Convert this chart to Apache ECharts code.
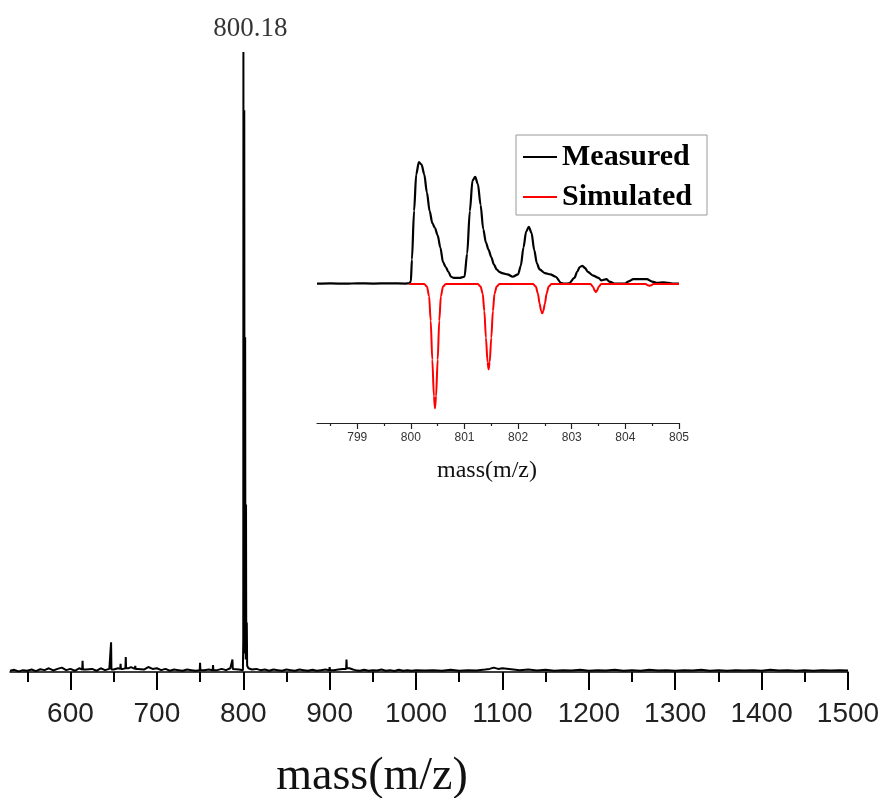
<!DOCTYPE html>
<html>
<head>
<meta charset="utf-8">
<script src="https://cdn.jsdelivr.net/npm/echarts@6/dist/echarts.min.js"></script>
<style>html,body{margin:0;padding:0;background:#fff}#c{width:885px;height:798px}</style>
</head>
<body>
<div id="c"></div>
<script>
// ---- Main spectrum (mass, relative intensity %) ----
const mainMass = [530,535,540,545,550,555,560,565,570,575,580,585,590,592,595,600,605,610,613.6,614,614.4,618,620,625,630,635,640,645,646.6,647,647.4,650,655,657.6,658,658.4,661,663.6,664,664.4,667,670,674.6,675,675.4,678,680,685,690,695,700,705,710,715,720,725,730,735,740,745,749.6,750,750.4,755,760,764.6,765,765.4,770,775,780,785,787.1,787.5,787.9,790,795,799.6,800.0,800.18,800.4,800.8,801.18,801.5,801.9,802.2,802.5,802.9,803.2,803.5,804.1,804.5,806,810,815,820,825,830,835,840,845,850,855,860,865,870,875,880,885,890,895,899.6,900,900.4,905,910,915,919.1,919.5,919.9,923,927,930,935,940,945,950,955,960,965,970,975,980,985,990,995,1000,
  1010,1020,1030,1040,1050,1060,1070,1080,1085,1090,1095,1100,
  1110,1120,1130,1140,1150,1160,1170,1180,1190,1200,
  1210,1220,1230,1240,1250,1260,1270,1280,1290,1300,
  1310,1320,1330,1340,1350,1360,1370,1380,1390,1400,
  1410,1420,1430,1440,1450,1460,1470,1480,1490,1500];
const mainIntensity = [0.2,0.35,0.1,0.3,0.2,0.4,0.15,0.45,0.3,0.6,0.25,0.5,0.7,0.9,0.3,0.5,0.2,0.6,0.4,1.8,0.4,0.4,0.3,0.5,0.2,0.6,0.3,0.5,0.4,4.8,0.4,0.4,0.6,0.5,1.3,0.5,0.5,0.6,2.4,0.6,0.6,0.8,0.5,1.0,0.5,0.5,0.7,0.4,0.8,0.5,0.6,0.3,0.5,0.2,0.4,0.3,0.2,0.4,0.3,0.2,0.3,1.5,0.3,0.3,0.4,0.3,1.1,0.3,0.3,0.5,0.3,0.6,0.5,2.0,0.5,0.5,0.4,0.3,5,100,20,3,90.6,15,4,54,8,2,27,3,8,1,0.6,0.4,0.5,0.3,0.4,0.2,0.4,0.3,0.2,0.4,0.3,0.2,0.4,0.3,0.2,0.35,0.2,0.3,0.4,0.3,0.8,0.3,0.3,0.4,0.5,0.5,2.0,0.6,0.6,0.4,0.3,0.2,0.35,0.2,0.3,0.25,0.4,0.2,0.3,0.15,0.35,0.2,0.3,0.2,0.3,
  0.25,0.3,0.2,0.35,0.2,0.3,0.25,0.4,0.5,0.7,0.5,0.6,
  0.45,0.3,0.4,0.25,0.35,0.2,0.3,0.25,0.35,0.2,
  0.3,0.25,0.35,0.2,0.3,0.2,0.35,0.25,0.3,0.2,
  0.3,0.25,0.35,0.2,0.3,0.2,0.3,0.25,0.3,0.2,
  0.35,0.25,0.3,0.2,0.3,0.2,0.3,0.25,0.3,0.25];
const peakLabelMass = 800.18;
const peakLabelIntensity = 100;
const peakLabelText = '800.18';
const mainTicks = [600,700,800,900,1000,1100,1200,1300,1400,1500];
const mainMinorTicks = [550,650,750,850,950,1050,1150,1250,1350,1450];

// ---- Inset: measured isotope pattern ----
const measuredMass = [798.25,798.5,798.8,799.0,799.3,799.6,799.9,799.97,800.0,800.02,800.06,800.1,800.15,800.2,800.25,800.3,800.35,800.4,800.45,800.5,800.55,800.6,800.65,800.7,800.75,800.8,800.9,801.0,801.05,801.1,801.15,801.2,801.25,801.3,801.35,801.4,801.45,801.5,801.55,801.6,801.65,801.7,801.8,801.9,802.0,802.05,802.1,802.15,802.2,802.25,802.3,802.35,802.4,802.5,802.6,802.7,802.8,802.85,802.95,803.05,803.1,803.15,803.2,803.25,803.3,803.4,803.5,803.55,803.65,803.7,803.8,804.0,804.05,804.15,804.3,804.4,804.5,804.6,804.7,804.8,804.9,805.0];
const measuredIntensity = [0.3,0.5,0.3,0.6,0.4,0.6,0.4,0.6,2,20,60,90,100,98,90,75,60,50,46,40,30,18,14,10,6,5,5,6,25,60,85,88,82,65,45,34,28,22,16,12,10,9,8,6,8,15,30,43,47,42,28,17,12,9,8,6,1,0.3,0.6,5,10,14,15,13,10,7,5,3,4,2,0.4,0.4,2,4,4,4,2,1,1.5,1,0.4,0.3];
// ---- Inset: simulated isotope pattern (plotted downward) ----
const simulatedMass = [799.97,800.25,800.3,800.34,800.37,800.4,800.43,800.45,800.47,800.5,800.53,800.56,800.6,800.65,801.25,801.3,801.34,801.37,801.4,801.43,801.45,801.47,801.5,801.53,801.56,801.6,801.65,802.28,802.33,802.37,802.4,802.43,802.45,802.47,802.5,802.53,802.57,802.62,803.35,803.4,803.43,803.45,803.47,803.5,803.55,804.38,804.42,804.45,804.48,804.52,805.0];
const simulatedIntensity = [0,0,-2,-10,-30,-62,-92,-102,-92,-62,-30,-10,-2,0,0,-2,-8,-22,-44,-64,-70,-64,-44,-22,-8,-2,0,0,-2,-8,-16,-22,-24,-22,-16,-8,-2,0,0,-2.5,-5.5,-6.5,-5.5,-2.5,0,0,-1,-1.3,-1,0,0];
const insetTicks = [799,800,801,802,803,804,805];
const insetMinorTicks = [798.5,799.5,800.5,801.5,802.5,803.5,804.5];

const zip = (a, b) => a.map((v, i) => [v, b[i]]);
const serif = '"Liberation Serif","Times New Roman",serif';
const sans = '"Liberation Sans",Arial,sans-serif';
const plain = v => String(v);

const chart = echarts.init(document.getElementById('c'), null, {renderer: 'canvas'});
chart.setOption({
  animation: false,
  backgroundColor: '#ffffff',
  grid: [
    {left: 10, right: 37, top: 52, bottom: 126, containLabel: false, outerBoundsMode: 'none'},
    {left: 317, right: 206, top: 150, bottom: 375, containLabel: false, outerBoundsMode: 'none'}
  ],
  xAxis: [
    {
      type: 'value', gridIndex: 0, min: 530, max: 1500, position: 'bottom',
      splitLine: {show: false},
      axisLine: {show: true, onZero: false, lineStyle: {color: '#000', width: 1.5}},
      axisTick: {show: true, customValues: mainTicks, length: 18, inside: false, lineStyle: {color: '#000', width: 2}},
      axisLabel: {show: true, customValues: mainTicks, formatter: plain, fontSize: 28, fontFamily: sans, color: '#222', margin: 28},
      name: 'mass(m/z)', nameLocation: 'middle', nameGap: 82,
      nameTextStyle: {fontSize: 46, fontFamily: serif, color: '#111', padding: [0, 114, 0, 0]}
    },
    {
      type: 'value', gridIndex: 0, min: 530, max: 1500, position: 'bottom',
      splitLine: {show: false},
      axisLine: {show: false, onZero: false},
      axisTick: {show: true, customValues: mainMinorTicks, length: 10, lineStyle: {color: '#000', width: 2}},
      axisLabel: {show: false}
    },
    {
      type: 'value', gridIndex: 1, min: 798.25, max: 805, position: 'bottom',
      splitLine: {show: false},
      axisLine: {show: true, onZero: false, lineStyle: {color: '#222', width: 1.2}},
      axisTick: {show: true, customValues: insetTicks, length: 6, lineStyle: {color: '#222', width: 1.2}},
      axisLabel: {show: true, customValues: insetTicks, formatter: plain, fontSize: 12, fontFamily: sans, color: '#333', margin: 9},
      name: 'mass(m/z)', nameLocation: 'middle', nameGap: 36,
      nameTextStyle: {fontSize: 24, fontFamily: serif, color: '#111', padding: [0, 22, 0, 0]}
    },
    {
      type: 'value', gridIndex: 1, min: 798.25, max: 805, position: 'bottom',
      splitLine: {show: false},
      axisLine: {show: false, onZero: false},
      axisTick: {show: true, customValues: insetMinorTicks, length: 3, lineStyle: {color: '#222', width: 1.2}},
      axisLabel: {show: false}
    }
  ],
  yAxis: [
    {type: 'value', gridIndex: 0, min: 0, max: 100, show: false, splitLine: {show: false}},
    {type: 'value', gridIndex: 1, min: -114, max: 110, show: false, splitLine: {show: false}}
  ],
  legend: {
    data: [
      {name: 'Measured', icon: 'rect'},
      {name: 'Simulated', icon: 'rect'}
    ],
    orient: 'vertical',
    left: 516, top: 135,
    padding: [7, 15, 3, 7],
    itemGap: 10,
    itemWidth: 34, itemHeight: 2,
    borderColor: '#999', borderWidth: 1,
    textStyle: {fontSize: 30, fontWeight: 'bold', fontFamily: serif, color: '#000', lineHeight: 30}
  },
  series: [
    {
      name: 'Spectrum', type: 'line', xAxisIndex: 0, yAxisIndex: 0,
      data: zip(mainMass, mainIntensity), symbol: 'none',
      lineStyle: {color: '#000', width: 2}, clip: true
    },
    {
      name: 'PeakLabel', type: 'scatter', xAxisIndex: 0, yAxisIndex: 0,
      data: [[peakLabelMass, peakLabelIntensity]], symbolSize: 0, silent: true,
      label: {show: true, position: 'top', distance: 10, offset: [7, 0], formatter: peakLabelText,
        fontSize: 27, fontFamily: serif, color: '#000'}
    },
    {
      name: 'Measured', type: 'line', xAxisIndex: 2, yAxisIndex: 1,
      data: zip(measuredMass, measuredIntensity), symbol: 'none',
      smooth: 0.3, smoothMonotone: 'x',
      lineStyle: {color: '#000', width: 2.2}, itemStyle: {color: '#000'}
    },
    {
      name: 'Simulated', type: 'line', xAxisIndex: 2, yAxisIndex: 1,
      data: zip(simulatedMass, simulatedIntensity), symbol: 'none',
      smooth: 0.3, smoothMonotone: 'x',
      lineStyle: {color: '#ff0000', width: 2}, itemStyle: {color: '#ff0000'}
    }
  ]
});
</script>
</body>
</html>
